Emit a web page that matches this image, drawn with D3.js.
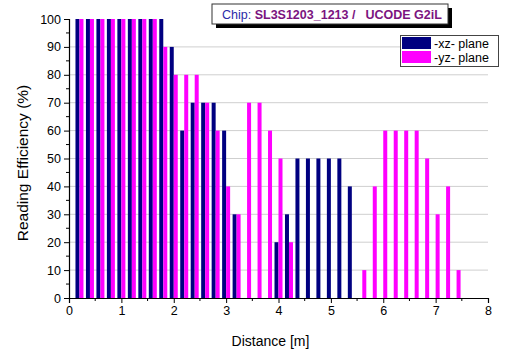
<!DOCTYPE html>
<html>
<head>
<meta charset="utf-8">
<script src="https://cdn.jsdelivr.net/npm/d3@7/dist/d3.min.js"></script>
<style>
  html, body { margin: 0; padding: 0; background: #fff; }
  svg { display: block; font-family: "Liberation Sans", Arial, sans-serif; }
</style>
</head>
<body>
<svg id="chart" width="507" height="354"></svg>
<script>
// Tag distances (m)
const distances = [0.2, 0.4, 0.6, 0.8, 1.0, 1.2, 1.4, 1.6, 1.8, 2.0, 2.2, 2.4, 2.6, 2.8, 3.0, 3.2, 3.4, 3.6, 3.8,
                   4.0, 4.2, 4.4, 4.6, 4.8, 5.0, 5.2, 5.4, 5.6, 5.8, 6.0, 6.2, 6.4, 6.6, 6.8, 7.0, 7.2, 7.4];
// Reading efficiency (%) in the xz plane
const xzPlane = [100, 100, 100, 100, 100, 100, 100, 100, 100, 90, 60, 70, 70, 70, 60, 30, 0, 0, 0,
                 20, 30, 50, 50, 50, 50, 50, 40, 0, 0, 0, 0, 0, 0, 0, 0, 0, 0];
// Reading efficiency (%) in the yz plane
const yzPlane = [100, 100, 100, 100, 100, 100, 100, 100, 90, 80, 80, 80, 70, 60, 40, 30, 70, 70, 60,
                 50, 20, 0, 0, 0, 0, 0, 0, 10, 40, 60, 60, 60, 60, 50, 30, 40, 10];
const seriesNames = ["-xz- plane", "-yz- plane"];
const seriesColors = ["#000080", "#ff00ff"];
const xTicks = [0, 1, 2, 3, 4, 5, 6, 7, 8];
const yTicks = [0, 10, 20, 30, 40, 50, 60, 70, 80, 90, 100];

const svg = d3.select("#chart");
const plotL = 69, plotR = 488, plotT = 19, plotB = 298;

const x = d3.scaleLinear().domain([0, 8]).range([plotL, plotR]);
const y = d3.scaleLinear().domain([0, 100]).range([plotB, plotT]);

// horizontal grid lines
svg.append("g")
  .selectAll("line")
  .data(yTicks.filter(t => t > 0 && t < 100))
  .join("line")
  .attr("x1", plotL).attr("x2", plotR)
  .attr("y1", d => y(d)).attr("y2", d => y(d))
  .attr("stroke", "#cfcfcf").attr("stroke-width", 1);

// bars: xz to the left of each distance, yz to the right
const barW = 4;
const series = [xzPlane, yzPlane];
series.forEach((vals, si) => {
  svg.append("g")
    .selectAll("rect")
    .data(distances.map((d, i) => ({ d, v: vals[i] })).filter(o => o.v > 0))
    .join("rect")
    .attr("x", o => si === 0 ? x(o.d) - barW : x(o.d))
    .attr("width", barW)
    .attr("y", o => y(o.v))
    .attr("height", o => y(0) - y(o.v))
    .attr("fill", seriesColors[si]);
});

// axes
const yAxis = d3.axisLeft(y).tickValues(yTicks).tickSize(5).tickPadding(3);
const gy = svg.append("g").attr("transform", `translate(${plotL},0)`).call(yAxis);
const xAxis = d3.axisBottom(x).tickValues(xTicks).tickSize(5).tickPadding(3).tickFormat(d3.format("d"));
const gx = svg.append("g").attr("transform", `translate(0,${plotB})`).call(xAxis);
[gx, gy].forEach(g => {
  g.select(".domain").attr("stroke", "#000").attr("stroke-width", 1.2);
  g.selectAll(".tick line").attr("stroke", "#000");
  g.selectAll(".tick text").attr("font-size", 12.5).attr("fill", "#000")
    .attr("font-family", "Liberation Sans, Arial, sans-serif");
});

// minor ticks
svg.append("g").selectAll("line")
  .data(d3.range(5, 100, 10))
  .join("line")
  .attr("x1", plotL - 3).attr("x2", plotL)
  .attr("y1", d => y(d)).attr("y2", d => y(d))
  .attr("stroke", "#000");
svg.append("g").selectAll("line")
  .data(d3.range(0.5, 8, 1))
  .join("line")
  .attr("x1", d => x(d)).attr("x2", d => x(d))
  .attr("y1", plotB).attr("y2", plotB + 3)
  .attr("stroke", "#000");

// axis titles
svg.append("text")
  .attr("x", (plotL + plotR) / 2 - 8).attr("y", 346)
  .attr("text-anchor", "middle").attr("font-size", 14)
  .text("Distance [m]");
svg.append("text")
  .attr("transform", "translate(28,163) rotate(-90)")
  .attr("text-anchor", "middle").attr("font-size", 15.5)
  .text("Reading Efficiency (%)");

// chip caption box with shadow
const cap = svg.append("g");
cap.append("rect").attr("x", 216).attr("y", 8).attr("width", 236).attr("height", 20).attr("fill", "#000");
cap.append("rect").attr("x", 212).attr("y", 4).attr("width", 236).attr("height", 20)
  .attr("fill", "#fff").attr("stroke", "#333").attr("stroke-width", 1);
const capText = cap.append("text").attr("x", 222).attr("y", 19).attr("font-size", 12.5);
capText.append("tspan").attr("fill", "#2b2ba8").text("Chip: ");
capText.append("tspan").attr("fill", "#7b1480").attr("font-weight", "bold").text("SL3S1203_1213 /");
capText.append("tspan").attr("fill", "#7b1480").attr("font-weight", "bold").attr("dx", 10).text("UCODE G2iL");

// legend
const lg = svg.append("g");
lg.append("rect").attr("x", 400.5).attr("y", 35.5).attr("width", 98).attr("height", 31)
  .attr("fill", "#fff").attr("stroke", "#444").attr("stroke-width", 1);
seriesNames.forEach((name, i) => {
  lg.append("rect").attr("x", 402).attr("y", 37 + i * 14).attr("width", 29).attr("height", 12)
    .attr("fill", seriesColors[i]);
  lg.append("text").attr("x", 434).attr("y", 47.5 + i * 14).attr("font-size", 12.5).text(name);
});
</script>
</body>
</html>
